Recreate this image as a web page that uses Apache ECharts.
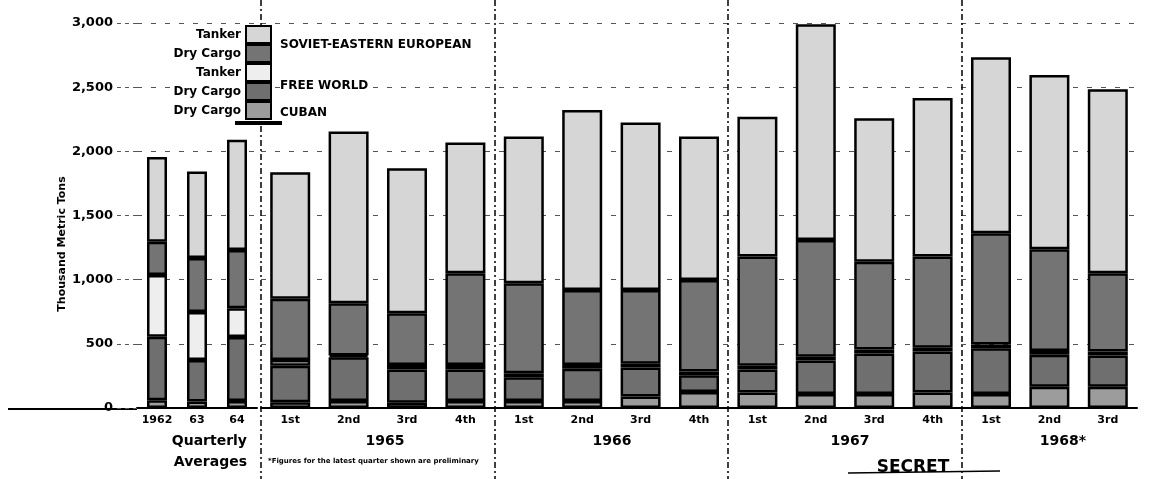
<!DOCTYPE html>
<html>
<head>
<meta charset="utf-8">
<script src="https://cdn.jsdelivr.net/npm/echarts@6/dist/echarts.min.js"></script>
<style>
  html, body { margin: 0; padding: 0; background: #fff; }
  #chart { width: 1151px; height: 479px; }
</style>
</head>
<body>
<div id="chart"></div>
<script>
// categories
const avgYears = ['1962', '63', '64'];
const quarters = ['1st', '2nd', '3rd', '4th', '1st', '2nd', '3rd', '4th', '1st', '2nd', '3rd', '4th', '1st', '2nd', '3rd'];
const yTicks = [0, 500, 1000, 1500, 2000, 2500, 3000];

// thousand metric tons, 1962, 63, 64 averages then 1965 Q1 .. 1968 Q3
const cubanDry      = [60, 50, 55,   45, 55, 40, 55,   55, 55, 90, 125,   120, 110, 110, 120,   110, 165, 165];
const freeWorldDry  = [496, 324, 498,   285, 340, 260, 245,   185, 250, 225, 130,   180, 260, 315, 320,   355, 250, 245];
const freeWorldTank = [481, 374, 224,   45, 15, 35, 35,   30, 30, 30, 30,   30, 30, 30, 30,   30, 30, 30];
const sovietDry     = [259, 421, 454,   477, 406, 403, 715,   702, 585, 575, 713,   850, 910, 685, 710,   867, 792, 610];
const sovietTank    = [660, 673, 859,   985, 1339, 1130, 1018,   1143, 1403, 1304, 1117,   1090, 1680, 1118, 1235,   1371, 1358, 1434];

const seriesDefs = [
  {name: 'Cuban Dry Cargo', short: 'Dry Cargo', data: cubanDry, color: '#9c9c9c'},
  {name: 'Free World Dry Cargo', short: 'Dry Cargo', data: freeWorldDry, color: '#6f6f6f'},
  {name: 'Free World Tanker', short: 'Tanker', data: freeWorldTank, color: '#eeeeee'},
  {name: 'Soviet-Eastern European Dry Cargo', short: 'Dry Cargo', data: sovietDry, color: '#747474'},
  {name: 'Soviet-Eastern European Tanker', short: 'Tanker', data: sovietTank, color: '#d6d6d6'},
];

const chart = echarts.init(document.getElementById('chart'));
const font = 'DejaVu Sans, Liberation Sans, sans-serif';
// year boundaries in the quarterly part
const dividers = [0, 4, 8, 12];

const series = [];
seriesDefs.forEach(s => {
  series.push({
    name: s.name, type: 'bar', stack: 'avg', xAxisIndex: 0, yAxisIndex: 0,
    barWidth: 20, data: s.data.slice(0, 3),
    itemStyle: {color: s.color, borderColor: '#000', borderWidth: 2.5},
    emphasis: {disabled: true}
  });
  series.push({
    name: s.name, type: 'bar', stack: 'qtr', xAxisIndex: 1, yAxisIndex: 1,
    barWidth: 40, data: s.data.slice(3),
    itemStyle: {color: s.color, borderColor: '#000', borderWidth: 2.5},
    emphasis: {disabled: true}
  });
});

const splitStyle = {show: true, lineStyle: {color: '#555', type: [5, 9], width: 1}};
const txt = (x, y, text, size, align) => ({
  type: 'text', x: x, y: y, z: 10,
  style: {text: text, fontFamily: font, fontWeight: 'bold', fontSize: size, fill: '#000',
    align: align || 'left', verticalAlign: 'middle', backgroundColor: '#fff'}
});

chart.setOption({
  animation: false,
  textStyle: {fontFamily: font},
  grid: [
    {left: 137, width: 120, top: 23, bottom: 71},
    {left: 261, right: 14, top: 23, bottom: 71},
    {left: 261, right: 14, top: 0, bottom: 0}
  ],
  legend: {
    orient: 'vertical', align: 'right', right: 879, top: 25, padding: 0,
    icon: 'rect', itemWidth: 25, itemHeight: 17, itemGap: 0,
    data: ['Soviet-Eastern European Tanker', 'Soviet-Eastern European Dry Cargo', 'Free World Tanker', 'Free World Dry Cargo', 'Cuban Dry Cargo'],
    formatter: name => seriesDefs.find(s => s.name === name).short,
    textStyle: {fontFamily: font, fontWeight: 'bold', fontSize: 12, color: '#000', backgroundColor: '#fff'},
    selectedMode: false
  },
  xAxis: [
    {
      type: 'category', gridIndex: 0, data: avgYears,
      axisLine: {lineStyle: {color: '#000', width: 2}},
      axisTick: {show: false},
      axisLabel: {color: '#000', fontWeight: 'bold', fontSize: 11, margin: 7}
    },
    {
      type: 'category', gridIndex: 1, data: quarters,
      axisLine: {lineStyle: {color: '#000', width: 2}},
      axisTick: {show: false},
      axisLabel: {color: '#000', fontWeight: 'bold', fontSize: 11, margin: 7}
    },
    {
      type: 'category', gridIndex: 2, data: quarters,
      axisLine: {show: false}, axisTick: {show: false}, axisLabel: {show: false},
      splitLine: {show: true, showMaxLine: false, interval: i => dividers.includes(i),
        lineStyle: {color: '#000', width: 1.5, type: [6, 3, 2, 3]}}
    }
  ],
  yAxis: [
    {
      type: 'value', gridIndex: 0, min: yTicks[0], max: yTicks[yTicks.length - 1], interval: 500,
      axisLine: {show: false},
      axisTick: {show: true, length: 20, lineStyle: {color: '#555', type: [4, 4]}},
      axisLabel: {color: '#000', fontWeight: 'bold', fontSize: 13, margin: 24,
        formatter: v => v.toLocaleString('en-US')},
      splitLine: splitStyle
    },
    {
      type: 'value', gridIndex: 1, min: yTicks[0], max: yTicks[yTicks.length - 1], interval: 500,
      axisLine: {show: false}, axisTick: {show: false}, axisLabel: {show: false},
      splitLine: splitStyle
    },
    {type: 'value', gridIndex: 2, show: false}
  ],
  graphic: [
    {type: 'rect', z: 10, shape: {x: 235, y: 121, width: 47, height: 4}, style: {fill: '#000'}},
    {type: 'line', shape: {x1: 8, y1: 409, x2: 137, y2: 409}, style: {stroke: '#000', lineWidth: 2}},
    {type: 'text', x: 62, y: 244, rotation: Math.PI / 2,
      style: {text: 'Thousand Metric Tons', fontFamily: font, fontWeight: 'bold', fontSize: 11, fill: '#000', align: 'center', verticalAlign: 'middle'}},
    txt(280, 45, 'SOVIET-EASTERN EUROPEAN', 12),
    txt(280, 86, 'FREE WORLD', 12),
    txt(280, 113, 'CUBAN', 12),
    txt(247, 441, 'Quarterly', 14, 'right'),
    txt(247, 462, 'Averages', 14, 'right'),
    txt(385, 441, '1965', 14, 'center'),
    txt(612, 441, '1966', 14, 'center'),
    txt(850, 441, '1967', 14, 'center'),
    txt(1063, 441, '1968*', 14, 'center'),
    txt(268, 461, '*Figures for the latest quarter shown are preliminary', 7),
    {type: 'line', shape: {x1: 848, y1: 473, x2: 1000, y2: 471}, style: {stroke: '#000', lineWidth: 1.5}},
    {type: 'text', x: 913, y: 468, z: 10,
      style: {text: 'SECRET', fontFamily: font, fontWeight: 'bold', fontSize: 17, fill: '#000', align: 'center', verticalAlign: 'middle'}}
  ],
  series: series
});
</script>
</body>
</html>
